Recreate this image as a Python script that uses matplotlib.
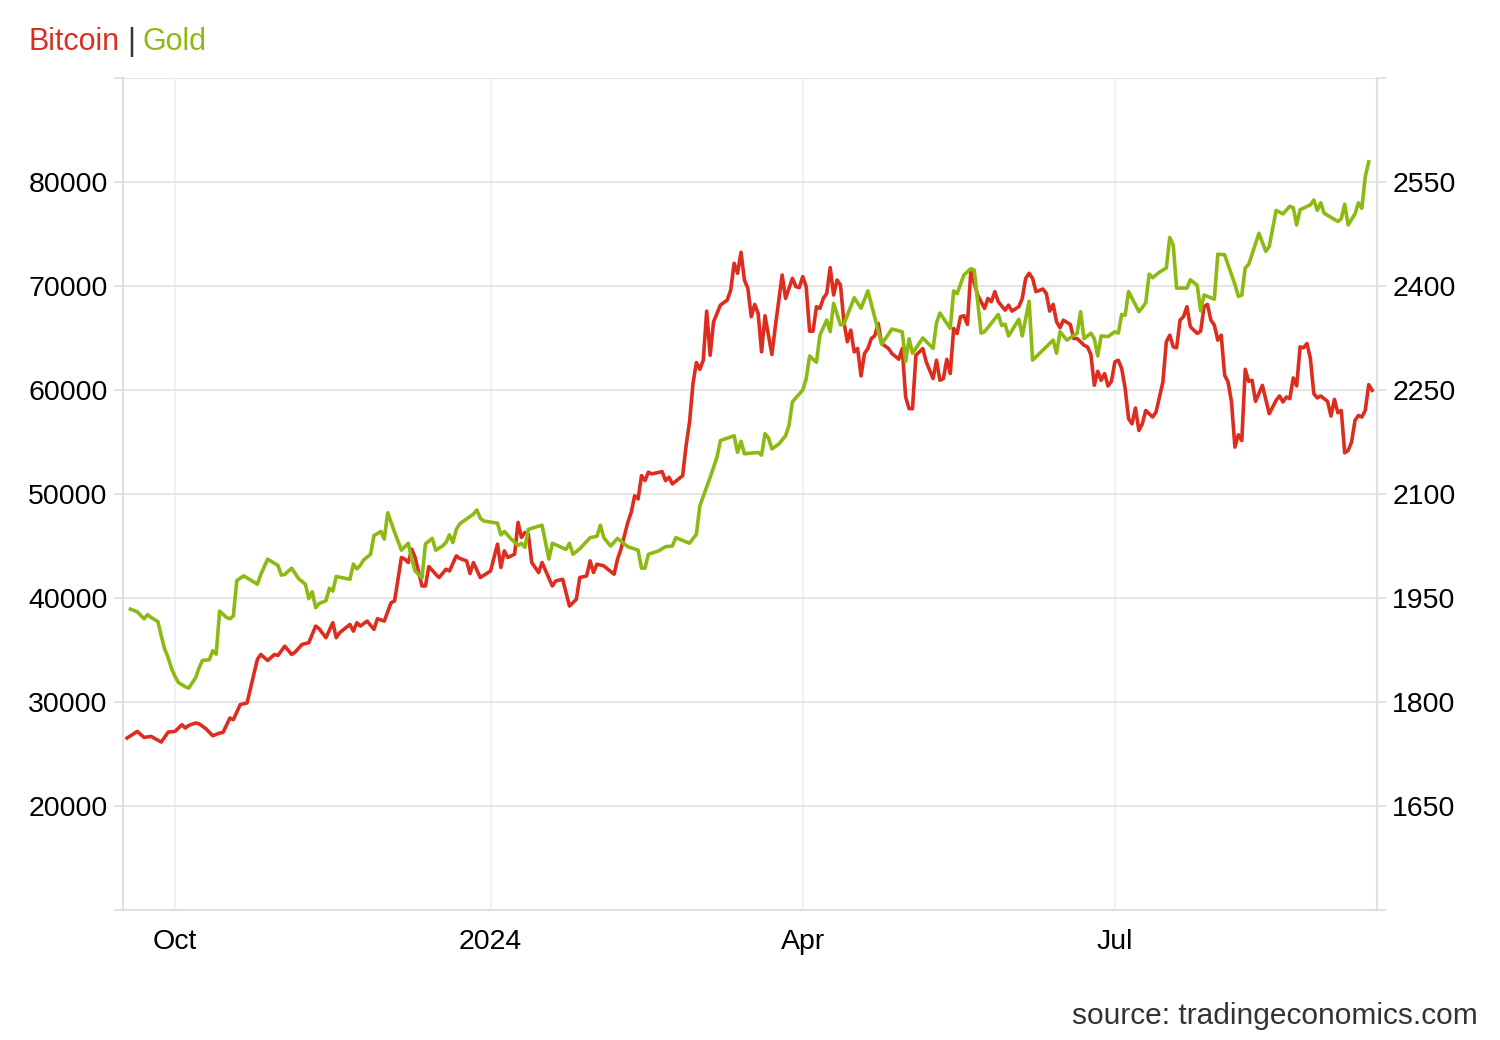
import matplotlib
matplotlib.use("Agg")
import matplotlib.pyplot as plt
from matplotlib.ticker import FuncFormatter
import pandas as pd

plt.rcParams['font.family'] = ['Liberation Sans', 'DejaVu Sans']

RED = '#de2d1f'
GREEN = '#8cba13'
GRID = '#e6e6e6'

# Bitcoin (left axis)
btc_dates = [
    '2023-09-17', '2023-09-20', '2023-09-22', '2023-09-24', '2023-09-27', '2023-09-29', '2023-10-01',
    '2023-10-03', '2023-10-04', '2023-10-05', '2023-10-07', '2023-10-08', '2023-10-10', '2023-10-12',
    '2023-10-14', '2023-10-15', '2023-10-17', '2023-10-18', '2023-10-20', '2023-10-22', '2023-10-25',
    '2023-10-26', '2023-10-28', '2023-10-30', '2023-10-31', '2023-11-02', '2023-11-04', '2023-11-05',
    '2023-11-07', '2023-11-09', '2023-11-11', '2023-11-12', '2023-11-14', '2023-11-16', '2023-11-17',
    '2023-11-18', '2023-11-21', '2023-11-22', '2023-11-23', '2023-11-24', '2023-11-26', '2023-11-28',
    '2023-11-29', '2023-12-01', '2023-12-03', '2023-12-04', '2023-12-06', '2023-12-07', '2023-12-08',
    '2023-12-09', '2023-12-10', '2023-12-12', '2023-12-13', '2023-12-14', '2023-12-16', '2023-12-17',
    '2023-12-19', '2023-12-20', '2023-12-22', '2023-12-23', '2023-12-25', '2023-12-26', '2023-12-27',
    '2023-12-29', '2024-01-01', '2024-01-03', '2024-01-04', '2024-01-05', '2024-01-06', '2024-01-08',
    '2024-01-09', '2024-01-10', '2024-01-11', '2024-01-12', '2024-01-13', '2024-01-15', '2024-01-16',
    '2024-01-19', '2024-01-20', '2024-01-22', '2024-01-24', '2024-01-26', '2024-01-27', '2024-01-29',
    '2024-01-30', '2024-01-31', '2024-02-01', '2024-02-03', '2024-02-06', '2024-02-07', '2024-02-08',
    '2024-02-10', '2024-02-11', '2024-02-12', '2024-02-13', '2024-02-14', '2024-02-15', '2024-02-16',
    '2024-02-17', '2024-02-20', '2024-02-21', '2024-02-22', '2024-02-23', '2024-02-26', '2024-02-27',
    '2024-02-28', '2024-02-29', '2024-03-01', '2024-03-02', '2024-03-03', '2024-03-04', '2024-03-05',
    '2024-03-06', '2024-03-08', '2024-03-10', '2024-03-11', '2024-03-12', '2024-03-13', '2024-03-14',
    '2024-03-15', '2024-03-16', '2024-03-17', '2024-03-18', '2024-03-19', '2024-03-20', '2024-03-21',
    '2024-03-23', '2024-03-24', '2024-03-26', '2024-03-27', '2024-03-29', '2024-03-30', '2024-03-31',
    '2024-04-01', '2024-04-02', '2024-04-03', '2024-04-04', '2024-04-05', '2024-04-06', '2024-04-07',
    '2024-04-08', '2024-04-09', '2024-04-10', '2024-04-11', '2024-04-12', '2024-04-13', '2024-04-14',
    '2024-04-15', '2024-04-16', '2024-04-17', '2024-04-18', '2024-04-19', '2024-04-20', '2024-04-21',
    '2024-04-22', '2024-04-23', '2024-04-24', '2024-04-26', '2024-04-27', '2024-04-29', '2024-04-30',
    '2024-05-01', '2024-05-02', '2024-05-03', '2024-05-04', '2024-05-06', '2024-05-07', '2024-05-09',
    '2024-05-10', '2024-05-11', '2024-05-12', '2024-05-13', '2024-05-14', '2024-05-15', '2024-05-16',
    '2024-05-17', '2024-05-18', '2024-05-19', '2024-05-20', '2024-05-22', '2024-05-24', '2024-05-25',
    '2024-05-26', '2024-05-27', '2024-05-28', '2024-05-30', '2024-05-31', '2024-06-01', '2024-06-03',
    '2024-06-04', '2024-06-05', '2024-06-06', '2024-06-07', '2024-06-08', '2024-06-10', '2024-06-11',
    '2024-06-12', '2024-06-13', '2024-06-14', '2024-06-15', '2024-06-16', '2024-06-18', '2024-06-19',
    '2024-06-20', '2024-06-22', '2024-06-23', '2024-06-24', '2024-06-25', '2024-06-26', '2024-06-27',
    '2024-06-28', '2024-06-29', '2024-06-30', '2024-07-01', '2024-07-02', '2024-07-03', '2024-07-04',
    '2024-07-05', '2024-07-06', '2024-07-07', '2024-07-08', '2024-07-09', '2024-07-10', '2024-07-12',
    '2024-07-13', '2024-07-14', '2024-07-15', '2024-07-16', '2024-07-17', '2024-07-18', '2024-07-19',
    '2024-07-20', '2024-07-21', '2024-07-22', '2024-07-23', '2024-07-25', '2024-07-26', '2024-07-27',
    '2024-07-28', '2024-07-29', '2024-07-30', '2024-07-31', '2024-08-01', '2024-08-02', '2024-08-03',
    '2024-08-04', '2024-08-05', '2024-08-06', '2024-08-07', '2024-08-08', '2024-08-09', '2024-08-10',
    '2024-08-11', '2024-08-13', '2024-08-15', '2024-08-17', '2024-08-18', '2024-08-19', '2024-08-20',
    '2024-08-21', '2024-08-22', '2024-08-23', '2024-08-24', '2024-08-25', '2024-08-26', '2024-08-27',
    '2024-08-28', '2024-08-29', '2024-08-30', '2024-09-01', '2024-09-02', '2024-09-03', '2024-09-04',
    '2024-09-05', '2024-09-06', '2024-09-07', '2024-09-08', '2024-09-09', '2024-09-10', '2024-09-11',
    '2024-09-12', '2024-09-13', '2024-09-14',
]
btc_values = [
    26530, 27170, 26590, 26690, 26150, 27110, 27170,
    27815, 27500, 27750, 27980, 27910, 27430, 26750,
    27015, 27070, 28460, 28300, 29745, 29910, 34085,
    34570, 33990, 34570, 34470, 35370, 34570, 34790,
    35530, 35700, 37300, 37045, 36180, 37625, 36180,
    36660, 37460, 36815, 37625, 37300, 37780, 36980,
    38010, 37780, 39555, 39710, 43895, 43730, 43410,
    44695, 43895, 41155, 41155, 43025, 42285, 41965,
    42765, 42600, 44050, 43800, 43570, 42350, 43410,
    41965, 42600, 45180, 42930, 44530, 43895, 44215,
    47270, 45825, 46305, 46140, 43410, 42450, 43410,
    41155, 41640, 41800, 39225, 39870, 41965, 42120,
    43570, 42450, 43250, 43085, 42285, 43730, 44695,
    47270, 48235, 49835, 49520, 51765, 51285, 52095,
    51930, 52150, 51285, 51610, 50965, 51765, 54660,
    56915, 60610, 62640, 61990, 62860, 67585, 63340,
    66560, 68165, 68645, 69610, 72185, 71220, 73250,
    70575, 69775, 67045, 68230, 67365, 63670, 67140,
    63410, 66080, 71060, 68810, 70740, 69940, 69840,
    70900, 69940, 65655, 65655, 68010, 67845, 68810,
    69290, 71770, 69130, 70575, 70095, 66560, 64635,
    65755, 63670, 63990, 61355, 63505, 63990, 64950,
    65210, 66400, 64470, 63990, 63505, 62955, 63990,
    59330, 58200, 58200, 63340, 63990, 62705, 61095,
    62860, 60930, 61095, 62955, 61575, 65915, 65435,
    67045, 67140, 66300, 71385, 69130, 67845, 68810,
    68490, 69455, 68490, 67680, 68165, 67585, 68010,
    68810, 70740, 71220, 70740, 69455, 69710, 69290,
    67585, 68230, 66560, 65985, 66715, 66300, 64950,
    64950, 64305, 64150, 63410, 60450, 61800, 60930,
    61575, 60390, 60835, 62705, 62860, 62060, 60130,
    57235, 56750, 58270, 56105, 56750, 58035, 57400,
    57880, 59330, 60775, 64635, 65270, 64150, 64055,
    66715, 67045, 68010, 66080, 65435, 65655, 68010,
    68230, 66715, 66235, 64790, 65270, 61410, 60775,
    58845, 54505, 55690, 55140, 61990, 60835, 60930,
    58905, 60450, 57720, 59000, 59425, 58845, 59330,
    59165, 61160, 60390, 64150, 64055, 64470, 63025,
    59645, 59230, 59425, 58905, 57495, 59100, 57815,
    58035, 53955, 54180, 54990, 57070, 57555, 57400,
    58035, 60515, 59965,
]

# Gold (right axis)
gold_dates = [
    '2023-09-18', '2023-09-20', '2023-09-22', '2023-09-23', '2023-09-24', '2023-09-26', '2023-09-27',
    '2023-09-28', '2023-09-29', '2023-09-30', '2023-10-01', '2023-10-02', '2023-10-04', '2023-10-05',
    '2023-10-07', '2023-10-08', '2023-10-09', '2023-10-11', '2023-10-12', '2023-10-13', '2023-10-14',
    '2023-10-16', '2023-10-17', '2023-10-18', '2023-10-19', '2023-10-21', '2023-10-25', '2023-10-26',
    '2023-10-28', '2023-10-31', '2023-11-01', '2023-11-02', '2023-11-04', '2023-11-06', '2023-11-08',
    '2023-11-09', '2023-11-10', '2023-11-11', '2023-11-12', '2023-11-14', '2023-11-15', '2023-11-16',
    '2023-11-17', '2023-11-21', '2023-11-22', '2023-11-23', '2023-11-24', '2023-11-25', '2023-11-27',
    '2023-11-28', '2023-11-30', '2023-12-01', '2023-12-02', '2023-12-04', '2023-12-06', '2023-12-08',
    '2023-12-09', '2023-12-10', '2023-12-12', '2023-12-13', '2023-12-15', '2023-12-16', '2023-12-18',
    '2023-12-19', '2023-12-20', '2023-12-21', '2023-12-22', '2023-12-23', '2023-12-25', '2023-12-27',
    '2023-12-28', '2023-12-29', '2023-12-30', '2024-01-03', '2024-01-04', '2024-01-05', '2024-01-07',
    '2024-01-09', '2024-01-10', '2024-01-11', '2024-01-12', '2024-01-16', '2024-01-18', '2024-01-19',
    '2024-01-23', '2024-01-24', '2024-01-25', '2024-01-27', '2024-01-30', '2024-02-01', '2024-02-02',
    '2024-02-03', '2024-02-05', '2024-02-07', '2024-02-08', '2024-02-10', '2024-02-13', '2024-02-14',
    '2024-02-15', '2024-02-16', '2024-02-19', '2024-02-21', '2024-02-23', '2024-02-24', '2024-02-28',
    '2024-03-01', '2024-03-02', '2024-03-05', '2024-03-07', '2024-03-08', '2024-03-12', '2024-03-13',
    '2024-03-14', '2024-03-15', '2024-03-19', '2024-03-20', '2024-03-21', '2024-03-22', '2024-03-23',
    '2024-03-25', '2024-03-27', '2024-03-28', '2024-03-29', '2024-04-01', '2024-04-02', '2024-04-03',
    '2024-04-05', '2024-04-06', '2024-04-08', '2024-04-09', '2024-04-10', '2024-04-12', '2024-04-13',
    '2024-04-16', '2024-04-18', '2024-04-20', '2024-04-24', '2024-04-27', '2024-04-30', '2024-05-01',
    '2024-05-02', '2024-05-03', '2024-05-06', '2024-05-09', '2024-05-10', '2024-05-11', '2024-05-14',
    '2024-05-15', '2024-05-16', '2024-05-18', '2024-05-20', '2024-05-21', '2024-05-23', '2024-05-24',
    '2024-05-28', '2024-05-29', '2024-05-30', '2024-05-31', '2024-06-03', '2024-06-04', '2024-06-06',
    '2024-06-07', '2024-06-13', '2024-06-14', '2024-06-15', '2024-06-17', '2024-06-20', '2024-06-21',
    '2024-06-22', '2024-06-24', '2024-06-25', '2024-06-26', '2024-06-27', '2024-06-29', '2024-07-01',
    '2024-07-02', '2024-07-03', '2024-07-04', '2024-07-05', '2024-07-08', '2024-07-09', '2024-07-10',
    '2024-07-11', '2024-07-12', '2024-07-14', '2024-07-16', '2024-07-17', '2024-07-18', '2024-07-19',
    '2024-07-22', '2024-07-23', '2024-07-25', '2024-07-26', '2024-07-27', '2024-07-30', '2024-07-31',
    '2024-08-02', '2024-08-05', '2024-08-06', '2024-08-07', '2024-08-08', '2024-08-09', '2024-08-12',
    '2024-08-14', '2024-08-15', '2024-08-17', '2024-08-19', '2024-08-21', '2024-08-22', '2024-08-23',
    '2024-08-24', '2024-08-27', '2024-08-28', '2024-08-29', '2024-08-30', '2024-08-31', '2024-09-02',
    '2024-09-04', '2024-09-05', '2024-09-06', '2024-09-07', '2024-09-09', '2024-09-10', '2024-09-11',
    '2024-09-12', '2024-09-13',
]
gold_values = [
    1934, 1930, 1920, 1926, 1922, 1916, 1895,
    1876, 1864, 1848, 1837, 1828, 1822, 1820,
    1835, 1849, 1860, 1861, 1874, 1869, 1931,
    1922, 1920, 1924, 1975, 1982, 1970, 1984,
    2006, 1997, 1983, 1984, 1993, 1978, 1970,
    1949, 1959, 1936, 1942, 1946, 1964, 1960,
    1981, 1977, 1999, 1992, 1997, 2005, 2013,
    2040, 2046, 2035, 2073, 2045, 2019, 2029,
    2006, 1989, 1979, 2028, 2036, 2019, 2025,
    2030, 2041, 2030, 2049, 2057, 2064, 2071,
    2077, 2065, 2061, 2058, 2041, 2046, 2035,
    2026, 2029, 2023, 2049, 2055, 2006, 2029,
    2020, 2029, 2013, 2021, 2037, 2039, 2055,
    2037, 2025, 2036, 2032, 2024, 2019, 1993,
    1993, 2013, 2018, 2024, 2025, 2037, 2029,
    2042, 2083, 2124, 2153, 2177, 2184, 2160,
    2176, 2158, 2160, 2156, 2187, 2181, 2165,
    2172, 2184, 2199, 2233, 2250, 2266, 2299,
    2290, 2329, 2351, 2334, 2375, 2344, 2345,
    2383, 2368, 2393, 2316, 2338, 2334, 2291,
    2324, 2303, 2325, 2310, 2347, 2361, 2339,
    2393, 2389, 2416, 2425, 2423, 2332, 2334,
    2359, 2343, 2345, 2328, 2352, 2328, 2378,
    2293, 2322, 2303, 2334, 2322, 2332, 2363,
    2324, 2332, 2324, 2299, 2328, 2327, 2334,
    2332, 2359, 2358, 2392, 2363, 2369, 2376,
    2417, 2412, 2420, 2426, 2470, 2459, 2397,
    2397, 2409, 2401, 2364, 2387, 2381, 2446,
    2445, 2402, 2385, 2387, 2426, 2431, 2476,
    2450, 2457, 2509, 2504, 2515, 2513, 2488,
    2510, 2517, 2524, 2509, 2520, 2505, 2499,
    2493, 2497, 2518, 2488, 2504, 2520, 2512,
    2558, 2579,
]

month_ticks = ['2023-10-01', '2024-01-01', '2024-04-01', '2024-07-01']
month_labels = ['Oct', '2024', 'Apr', 'Jul']
btc_ticks = list(range(10000, 90001, 10000))
gold_ticks = list(range(1500, 2701, 150))

btc_x = pd.to_datetime(btc_dates)
gold_x = pd.to_datetime(gold_dates)

fig = plt.figure(figsize=(15, 10.4), dpi=100)
ax = fig.add_axes([0.082, 0.125, 0.836, 0.800])
ax2 = ax.twinx()

ax.plot(btc_x, btc_values, color=RED, lw=2.6, solid_joinstyle='round')
ax2.plot(gold_x, gold_values, color=GREEN, lw=2.6, solid_joinstyle='round')

ax.set_xlim(pd.Timestamp('2023-09-15 20:00'), pd.Timestamp('2024-09-15 10:00'))
ax.set_xticks(pd.to_datetime(month_ticks))
ax.set_xticklabels(month_labels)

ax.set_ylim(10000, 90000)
ax.set_yticks(btc_ticks)
ax.yaxis.set_major_formatter(FuncFormatter(lambda v, p: '' if v in (10000, 90000) else '%d' % v))
ax2.set_ylim(1500, 2700)
ax2.set_yticks(gold_ticks)
ax2.yaxis.set_major_formatter(FuncFormatter(lambda v, p: '' if v in (1500, 2700) else '%d' % v))

ax.grid(axis='y', color=GRID, lw=1.5)
ax.grid(axis='x', color='#eef2f7', lw=1.5)
ax.set_axisbelow(True)

for s in ['top', 'right']:
    ax.spines[s].set_visible(False)
for s in ['left', 'bottom']:
    ax.spines[s].set_color('#e0e0e0')
    ax.spines[s].set_linewidth(1.5)
for s in ['top', 'left', 'bottom']:
    ax2.spines[s].set_visible(False)
ax2.spines['right'].set_color('#e0e0e0')
ax2.spines['right'].set_linewidth(1.5)

ax.tick_params(axis='y', length=6.5, width=1.5, color='#e0e0e0', pad=4.5, labelsize=20.5)
ax.tick_params(axis='x', length=0, pad=14, labelsize=20.5)
ax2.tick_params(axis='y', length=6.5, width=1.5, color='#e0e0e0', pad=4.5, labelsize=20.5)

# title pieces
ty = 1 - 50 / 1040
fig.text(28 / 1500, ty, 'Bitcoin', color=RED, fontsize=22, va='baseline')
fig.text(127 / 1500, ty, '|', color='#333333', fontsize=22, va='baseline')
fig.text(143 / 1500, ty, 'Gold', color=GREEN, fontsize=22, va='baseline')

fig.text(1478 / 1500, 1 - 1024 / 1040, 'source: tradingeconomics.com', color='#333333',
         fontsize=21.5, ha='right', va='baseline')

fig.savefig('out.png', dpi=100)
